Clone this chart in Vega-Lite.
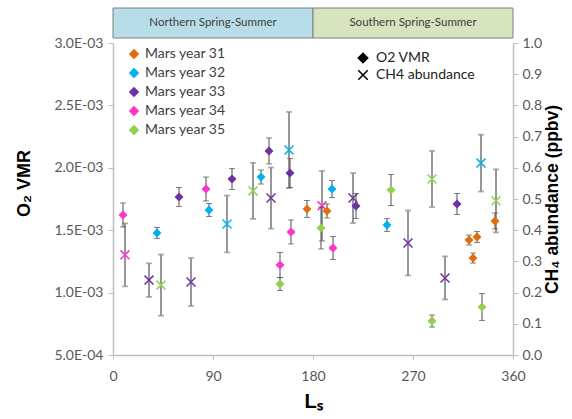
{
  "$schema": "https://vega.github.io/schema/vega-lite/v6.json",
  "background": "white",
  "padding": {"left": 15, "top": 7, "right": 2, "bottom": 2},
  "config": {
    "view": {"stroke": null},
    "font": "Lato",
    "axis": {
      "grid": false,
      "domainColor": "#bfbfbf",
      "domainWidth": 1.5,
      "tickColor": "#bfbfbf",
      "tickWidth": 1,
      "tickSize": 5,
      "labelColor": "#595959",
      "labelFont": "Lato",
      "labelFontSize": 14,
      "titleColor": "#000000",
      "titleFont": "Liberation Sans",
      "titleFontWeight": "bold"
    }
  },
  "datasets": {
    "header": [
      {"label": "Northern Spring-Summer", "start": 0, "end": 180, "mid": 90},
      {"label": "Southern Spring-Summer", "start": 180, "end": 360, "mid": 270}
    ],
    "o2": [
      {"year": "Mars year 31", "Ls": 174.6, "o2": 0.001670, "err": 0.000068},
      {"year": "Mars year 31", "Ls": 192.6, "o2": 0.001654, "err": 0.000056},
      {"year": "Mars year 31", "Ls": 320.4, "o2": 0.001421, "err": 0.000040},
      {"year": "Mars year 31", "Ls": 327.6, "o2": 0.001446, "err": 0.000044},
      {"year": "Mars year 31", "Ls": 324.0, "o2": 0.001277, "err": 0.000040},
      {"year": "Mars year 31", "Ls": 343.8, "o2": 0.001574, "err": 0.000064},
      {"year": "Mars year 32", "Ls": 39.6, "o2": 0.001478, "err": 0.000044},
      {"year": "Mars year 32", "Ls": 86.4, "o2": 0.001662, "err": 0.000052},
      {"year": "Mars year 32", "Ls": 133.2, "o2": 0.001926, "err": 0.000056},
      {"year": "Mars year 32", "Ls": 197.1, "o2": 0.001830, "err": 0.000068},
      {"year": "Mars year 32", "Ls": 246.6, "o2": 0.001542, "err": 0.000052},
      {"year": "Mars year 33", "Ls": 59.4, "o2": 0.001766, "err": 0.000076},
      {"year": "Mars year 33", "Ls": 107.1, "o2": 0.001910, "err": 0.000084},
      {"year": "Mars year 33", "Ls": 140.4, "o2": 0.002135, "err": 0.000104},
      {"year": "Mars year 33", "Ls": 159.3, "o2": 0.001958, "err": 0.000116},
      {"year": "Mars year 33", "Ls": 218.7, "o2": 0.001694, "err": 0.000100},
      {"year": "Mars year 33", "Ls": 309.6, "o2": 0.001710, "err": 0.000084},
      {"year": "Mars year 34", "Ls": 9.0, "o2": 0.001622, "err": 0.000096},
      {"year": "Mars year 34", "Ls": 83.7, "o2": 0.001830, "err": 0.000096},
      {"year": "Mars year 34", "Ls": 150.3, "o2": 0.001221, "err": 0.000100},
      {"year": "Mars year 34", "Ls": 160.2, "o2": 0.001486, "err": 0.000096},
      {"year": "Mars year 34", "Ls": 198.0, "o2": 0.001357, "err": 0.000092},
      {"year": "Mars year 35", "Ls": 150.3, "o2": 0.001069, "err": 0.000052},
      {"year": "Mars year 35", "Ls": 187.2, "o2": 0.001518, "err": 0.000168},
      {"year": "Mars year 35", "Ls": 250.2, "o2": 0.001822, "err": 0.000124},
      {"year": "Mars year 35", "Ls": 287.1, "o2": 0.000772, "err": 0.000048},
      {"year": "Mars year 35", "Ls": 332.1, "o2": 0.000885, "err": 0.000108}
    ],
    "ch4": [
      {"year": "Mars year 34", "Ls": 10.8, "ch4": 0.321, "err": 0.101},
      {"year": "Mars year 33", "Ls": 32.4, "ch4": 0.240, "err": 0.054},
      {"year": "Mars year 35", "Ls": 43.2, "ch4": 0.224, "err": 0.098},
      {"year": "Mars year 33", "Ls": 70.2, "ch4": 0.234, "err": 0.077},
      {"year": "Mars year 32", "Ls": 102.6, "ch4": 0.420, "err": 0.091},
      {"year": "Mars year 35", "Ls": 126.0, "ch4": 0.526, "err": 0.090},
      {"year": "Mars year 33", "Ls": 142.2, "ch4": 0.503, "err": 0.098},
      {"year": "Mars year 32", "Ls": 158.4, "ch4": 0.657, "err": 0.122},
      {"year": "Mars year 34", "Ls": 188.1, "ch4": 0.478, "err": 0.112},
      {"year": "Mars year 33", "Ls": 216.0, "ch4": 0.503, "err": 0.080},
      {"year": "Mars year 33", "Ls": 265.5, "ch4": 0.359, "err": 0.104},
      {"year": "Mars year 35", "Ls": 287.1, "ch4": 0.564, "err": 0.090},
      {"year": "Mars year 33", "Ls": 298.8, "ch4": 0.247, "err": 0.069},
      {"year": "Mars year 32", "Ls": 331.2, "ch4": 0.615, "err": 0.091},
      {"year": "Mars year 35", "Ls": 344.7, "ch4": 0.494, "err": 0.101}
    ]
  },
  "resolve": {"scale": {"color": "independent", "shape": "independent", "opacity": "independent"}},
  "spacing": 5,
  "bounds": "flush",
  "vconcat": [
    {
      "width": 400,
      "height": 30,
      "data": {"name": "header"},
      "layer": [
        {
          "mark": {"type": "rect", "stroke": "#7f7f7f", "strokeWidth": 1},
          "encoding": {
            "x": {"field": "start", "type": "quantitative", "scale": {"domain": [0, 360], "nice": false, "padding": 0}, "axis": null},
            "x2": {"field": "end"},
            "color": {"field": "label", "type": "nominal", "scale": {"range": ["#b7dde8", "#d7e4bd"]}, "legend": null}
          }
        },
        {
          "mark": {"type": "text", "fontSize": 11.5, "color": "#404040", "font": "Lato"},
          "encoding": {
            "x": {"field": "mid", "type": "quantitative", "scale": {"domain": [0, 360], "nice": false, "padding": 0}, "axis": null},
            "text": {"field": "label"}
          }
        }
      ]
    },
    {
      "width": 400,
      "height": 312,
      "encoding": {
        "x": {
          "field": "Ls", "type": "quantitative",
          "scale": {"domain": [0, 360], "nice": false, "padding": 0},
          "axis": {"values": [0, 90, 180, 270, 360], "labelFlush": false, "title": "Lₛ", "titleFontSize": 20, "titlePadding": 8, "labelPadding": 10, "tickSize": 4}
        }
      },
      "layer": [
        {
          "data": {"name": "ch4"},
          "layer": [
            {
              "mark": {"type": "errorbar", "ticks": true, "size": 6, "thickness": 1.8, "color": "#8c8c8c"},
              "encoding": {
                "y": {"field": "ch4", "type": "quantitative", "scale": {"domain": [0, 1], "nice": false},
                      "axis": {"orient": "right", "title": "CH₄ abundance (ppbv)", "titleFontSize": 17.5, "titleAngle": 270, "titleBaseline": "top", "titlePadding": 2, "values": [0, 0.1, 0.2, 0.3, 0.4, 0.5, 0.6, 0.7, 0.8, 0.9, 1.0], "format": ".1f", "labelPadding": 4}},
                "yError": {"field": "err"}
              }
            },
            {
              "mark": {"type": "point", "filled": false, "size": 80, "strokeWidth": 1.5},
              "encoding": {
                "y": {"field": "ch4", "type": "quantitative", "scale": {"domain": [0, 1], "nice": false},
                      "axis": {"orient": "right", "title": "CH₄ abundance (ppbv)", "titleFontSize": 17.5, "titleAngle": 270, "titleBaseline": "top", "titlePadding": 2, "values": [0, 0.1, 0.2, 0.3, 0.4, 0.5, 0.6, 0.7, 0.8, 0.9, 1.0], "format": ".1f", "labelPadding": 4}},
                "color": {"field": "year", "type": "nominal",
                  "legend": {"title": null, "orient": "none", "legendX": 14, "legendY": 4, "symbolType": "diamond", "symbolSize": 70, "labelFontSize": 14, "labelColor": "#404040", "labelFont": "Lato", "rowPadding": 3, "labelOffset": 4,
                             "encode": {"symbols": {"update": {"fill": {"scale": "color", "field": "value"}, "fillOpacity": {"value": 1}, "stroke": {"value": "transparent"}, "opacity": {"value": 1}}}}}},
                "opacity": {"field": "year", "type": "nominal", "scale": {"domain": ["Mars year 31", "Mars year 32", "Mars year 33", "Mars year 34", "Mars year 35"], "range": [1, 1, 0.42, 0.42, 1]}, "legend": null},
                "shape": {"datum": "CH4 abundance", "type": "nominal",
                  "legend": {"title": null, "orient": "none", "legendX": 243, "legendY": 8, "symbolSize": 90, "symbolFillColor": "black", "symbolStrokeColor": "black", "symbolOpacity": 1, "labelFontSize": 14, "labelColor": "#222222", "labelFont": "Lato", "rowPadding": 1, "labelOffset": 6,
                             "encode": {"symbols": {"update": {"fill": {"value": "black"}, "fillOpacity": {"value": 1}, "stroke": {"value": "black"}, "strokeOpacity": {"value": 1}, "strokeWidth": {"value": 1.5}, "opacity": {"value": 1}}}}}}
              }
            }
          ]
        },
        {
          "data": {"name": "o2"},
          "layer": [
            {
              "mark": {"type": "errorbar", "ticks": true, "size": 6, "thickness": 1, "color": "#4d4d4d"},
              "encoding": {
                "y": {"field": "o2", "type": "quantitative", "scale": {"domain": [0.0005, 0.003], "nice": false},
                      "axis": {"orient": "left", "title": "O₂ VMR", "titleFontSize": 18, "titlePadding": 20, "titleY": 140, "labelPadding": 5, "values": [0.0005, 0.001, 0.0015, 0.002, 0.0025, 0.003], "labelExpr": "datum.value < 0.00099 ? format(datum.value * 10000, '.1f') + 'E-04' : format(datum.value * 1000, '.1f') + 'E-03'"}},
                "yError": {"field": "err"}
              }
            },
            {
              "mark": {"type": "point", "filled": true, "size": 80, "opacity": 1},
              "encoding": {
                "y": {"field": "o2", "type": "quantitative", "scale": {"domain": [0.0005, 0.003], "nice": false},
                      "axis": {"orient": "left", "title": "O₂ VMR", "titleFontSize": 18, "titlePadding": 20, "titleY": 140, "labelPadding": 5, "values": [0.0005, 0.001, 0.0015, 0.002, 0.0025, 0.003], "labelExpr": "datum.value < 0.00099 ? format(datum.value * 10000, '.1f') + 'E-04' : format(datum.value * 1000, '.1f') + 'E-03'"}},
                "color": {
                  "field": "year", "type": "nominal",
                  "scale": {"domain": ["Mars year 31", "Mars year 32", "Mars year 33", "Mars year 34", "Mars year 35"], "range": ["#e46c0a", "#00b0f0", "#7030a0", "#ff33cc", "#92d050"]},
                  "legend": {"title": null, "orient": "none", "legendX": 14, "legendY": 4, "symbolType": "diamond", "symbolSize": 70, "labelFontSize": 14, "labelColor": "#404040", "labelFont": "Lato", "rowPadding": 3, "labelOffset": 4,
                             "encode": {"symbols": {"update": {"fill": {"scale": "color", "field": "value"}, "fillOpacity": {"value": 1}, "stroke": {"value": "transparent"}, "opacity": {"value": 1}}}}}
                },
                "shape": {
                  "datum": "O2 VMR", "type": "nominal",
                  "scale": {"domain": ["O2 VMR", "CH4 abundance"], "range": ["diamond", "M-1,-1L1,1M1,-1L-1,1"]},
                  "legend": {"title": null, "orient": "none", "legendX": 243, "legendY": 8, "symbolSize": 90, "symbolFillColor": "black", "symbolStrokeColor": "black", "symbolOpacity": 1, "labelFontSize": 14, "labelColor": "#222222", "labelFont": "Lato", "rowPadding": 1, "labelOffset": 6,
                             "encode": {"symbols": {"update": {"fill": {"value": "black"}, "fillOpacity": {"value": 1}, "stroke": {"value": "black"}, "strokeOpacity": {"value": 1}, "strokeWidth": {"value": 1.5}, "opacity": {"value": 1}}}}}
                }
              }
            }
          ]
        }
      ],
      "resolve": {"scale": {"y": "independent"}, "axis": {"y": "independent"}}
    }
  ]
}
